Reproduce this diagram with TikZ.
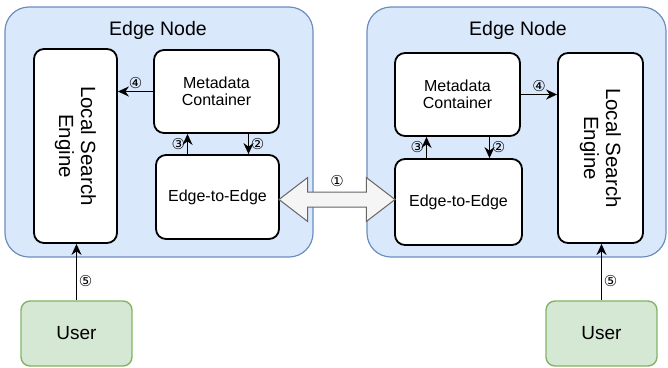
\documentclass[tikz,border=0pt]{standalone}
\usepackage{fontspec}
\setmainfont{Liberation Sans}
\newfontfamily\numfont{DejaVu Sans}
\usetikzlibrary{arrows.meta,shapes.arrows,calc}
\definecolor{nodeblue}{HTML}{DAE8FC}
\definecolor{nodeborder}{HTML}{6C8EBF}
\definecolor{usergreen}{HTML}{D5E8D4}
\definecolor{userborder}{HTML}{82B366}
\definecolor{linkfill}{HTML}{F5F5F5}
\definecolor{linkborder}{HTML}{666666}

\begin{document}
\begin{tikzpicture}[x=1pt,y=-1pt,
    container/.style={draw=nodeborder,fill=nodeblue,rounded corners=24pt,line width=1.2pt},
    title/.style={font=\fontsize{19.5}{22}\selectfont},
    box/.style={draw,fill=white,rounded corners=10pt,line width=1.8pt,align=center,
      font=\fontsize{16}{17.5}\selectfont},
    lsetext/.style={rotate=-90,align=center,font=\fontsize{20.5}{22}\selectfont},
    user/.style={draw=userborder,fill=usergreen,rounded corners=9pt,line width=1.4pt,
      minimum width=111pt,minimum height=65pt,font=\fontsize{19}{22}\selectfont},
    flow/.style={line width=1.8pt,-{Stealth[length=11pt,width=10pt]}},
    num/.style={font=\numfont\fontsize{15}{15}\selectfont,inner sep=1.5pt}]

  \useasboundingbox (0,0) rectangle (668,367);

  % left edge node
  \node[container,minimum width=308pt,minimum height=250pt] (lcont) at (159,132) {};
  \node[title] (ltitle) at (158,30) {Edge Node};
  \node[box,minimum width=83pt,minimum height=194pt] (llse) at (75.5,146) {};
  \node[lsetext] (llsetxt) at (llse) {Local Search\\Engine};
  \node[box,minimum width=125pt,minimum height=83pt] (lmc) at (216.5,91.5) {Metadata\\Container};
  \node[box,minimum width=123pt,minimum height=84pt] (le2e) at (217.5,197) {Edge-to-Edge};

  % right edge node
  \node[container,minimum width=299pt,minimum height=250pt] (rcont) at (516.5,132) {};
  \node[title] (rtitle) at (518,30) {Edge Node};
  \node[box,minimum width=125pt,minimum height=83pt] (rmc) at (457.5,94.5) {Metadata\\Container};
  \node[box,minimum width=127pt,minimum height=86pt] (re2e) at (458.5,202) {Edge-to-Edge};
  \node[box,minimum width=85pt,minimum height=190pt] (rlse) at (600.5,148) {};
  \node[lsetext] (rlsetxt) at (rlse) {Local Search\\Engine};

  % users
  \node[user] (luser) at (76.5,333.5) {User};
  \node[user] (ruser) at (601.5,333.5) {User};

  % link between the two edge nodes
  \node[double arrow,draw=linkborder,fill=linkfill,line width=1pt,inner sep=7pt,
    minimum width=43pt,minimum height=116pt,double arrow head extend=14.5pt,
    double arrow tip angle=75] (link) at ($(le2e.east)!0.5!(re2e.west)$) {};
  \node[num] (n1) at ([yshift=18pt]link.center) {①};

  % flows
  \draw[flow] (lmc.west) -- (lmc.west -| llse.east) node[midway,above,num] {④};
  \draw[flow] ([xshift=-30pt]le2e.north) -- ([xshift=-30pt]le2e.north |- lmc.south)
    node[midway,left,num] {③};
  \draw[flow] ([xshift=32pt]lmc.south) -- ([xshift=32pt]lmc.south |- le2e.north)
    node[midway,right,num] {②};
  \draw[flow] (luser.north) -- (luser.north |- llse.south) node[pos=0.35,right,num] {⑤};

  \draw[flow] (rmc.east) -- (rmc.east -| rlse.west) node[midway,above,num] {④};
  \draw[flow] ([xshift=-32pt]re2e.north) -- ([xshift=-32pt]re2e.north |- rmc.south)
    node[midway,left,num] {③};
  \draw[flow] ([xshift=32pt]rmc.south) -- ([xshift=32pt]rmc.south |- re2e.north)
    node[midway,right,num] {②};
  \draw[flow] (ruser.north) -- (ruser.north |- rlse.south) node[pos=0.35,right,num] {⑤};

\end{tikzpicture}
\end{document}
